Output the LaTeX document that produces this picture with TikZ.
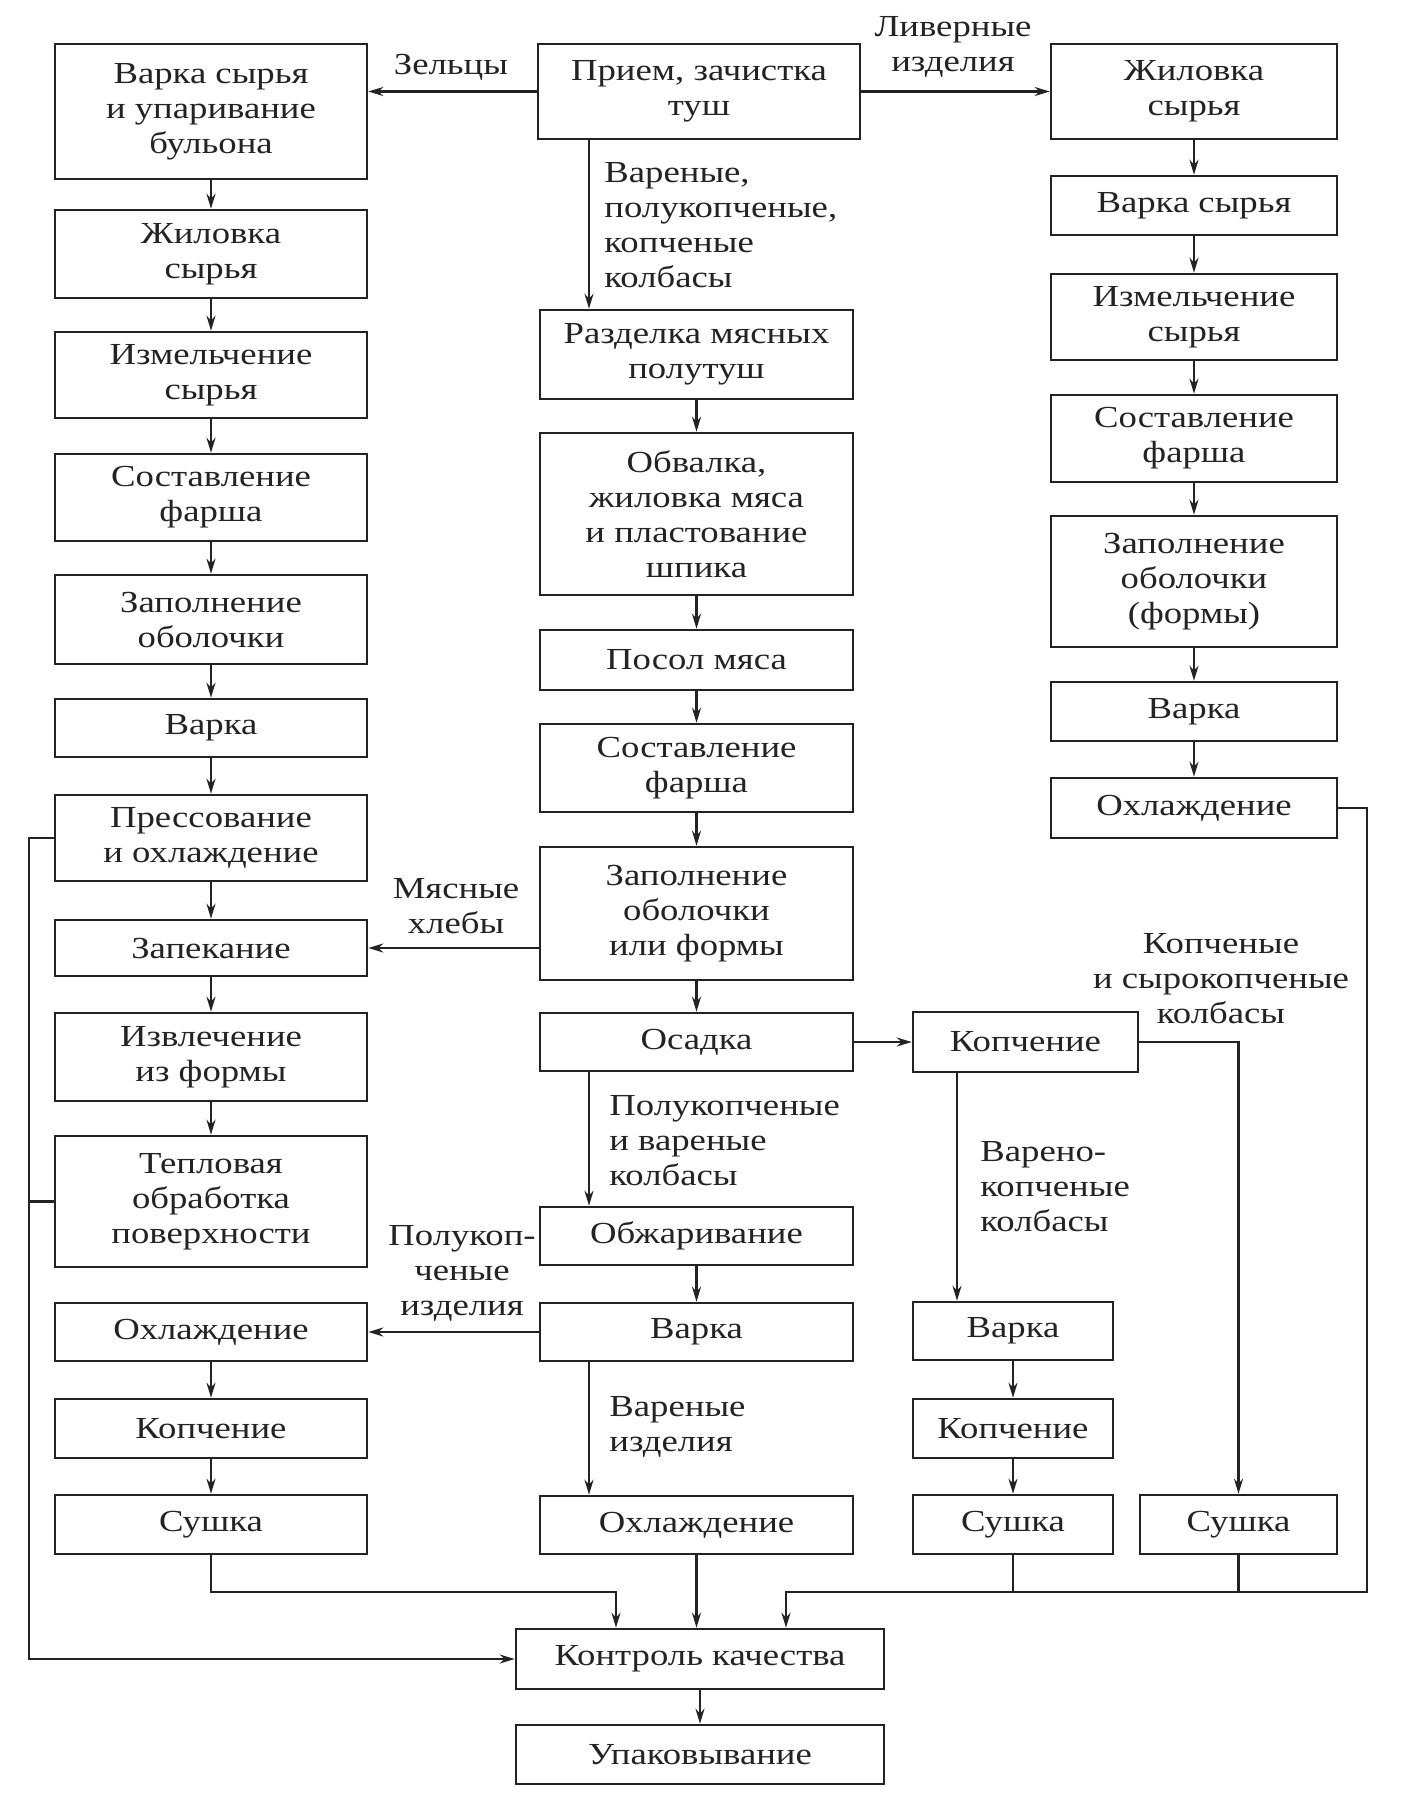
\documentclass[tikz,border=0pt]{standalone}
\usepackage{fontspec}
\setmainfont[FakeStretch=1.2]{Liberation Serif}
\usetikzlibrary{arrows.meta}
\definecolor{ink}{RGB}{35,35,35}
\newcommand\flowbox[6]{%
  \node[box, minimum width={(#4-#2)*0.5pt}, minimum height={(#5-#3)*0.5pt}]
    (#1) at ({(#2+#4)/2},{(#3+#5)/2}) {#6};}
\begin{document}
\begin{tikzpicture}[x=0.5pt,y=-0.5pt,
  every node/.style={font=\fontsize{15.3}{17.5}\selectfont, text=ink},
  box/.style={draw=ink, line width=1.3pt, inner sep=0pt, align=center, fill=white},
  lbl/.style={inner sep=0pt},
  conn/.style={draw=ink, line width=1.1pt},
  arr/.style={conn, -{Stealth[length=7.5pt,width=4.5pt]}}]
\useasboundingbox[fill=white] (0,0) rectangle (1406,1812);

% left column
\flowbox{L1}{55}{44}{367}{179}{Варка сырья\\и упаривание\\бульона}
\flowbox{L2}{55}{210}{367}{298}{Жиловка\\сырья}
\flowbox{L3}{55}{332}{367}{418}{Измельчение\\сырья}
\flowbox{L4}{55}{454}{367}{541}{Составление\\фарша}
\flowbox{L5}{55}{575}{367}{664}{Заполнение\\оболочки}
\flowbox{L6}{55}{699}{367}{757}{Варка}
\flowbox{L7}{55}{795}{367}{881}{Прессование\\и охлаждение}
\flowbox{L8}{55}{920}{367}{976}{Запекание}
\flowbox{L9}{55}{1013}{367}{1101}{Извлечение\\из формы}
\flowbox{L10}{55}{1136}{367}{1267}{Тепловая\\обработка\\поверхности}
\flowbox{L11}{55}{1303}{367}{1361}{Охлаждение}
\flowbox{L12}{55}{1399}{367}{1458}{Копчение}
\flowbox{L13}{55}{1495}{367}{1554}{Сушка}

% middle column
\flowbox{M1}{538}{44}{860}{139}{Прием, зачистка\\туш}
\flowbox{M2}{540}{310}{853}{399}{Разделка мясных\\полутуш}
\flowbox{M3}{540}{433}{853}{595}{Обвалка,\\жиловка мяса\\и пластование\\шпика}
\flowbox{M4}{540}{630}{853}{690}{Посол мяса}
\flowbox{M5}{540}{724}{853}{812}{Составление\\фарша}
\flowbox{M6}{540}{847}{853}{980}{Заполнение\\оболочки\\или формы}
\flowbox{M7}{540}{1013}{853}{1071}{Осадка}
\flowbox{M8}{540}{1207}{853}{1265}{Обжаривание}
\flowbox{M9}{540}{1303}{853}{1361}{Варка}
\flowbox{M10}{540}{1496}{853}{1554}{Охлаждение}

% right column
\flowbox{R1}{1051}{44}{1337}{139}{Жиловка\\сырья}
\flowbox{R2}{1051}{176}{1337}{235}{Варка сырья}
\flowbox{R3}{1051}{274}{1337}{360}{Измельчение\\сырья}
\flowbox{R4}{1051}{395}{1337}{482}{Составление\\фарша}
\flowbox{R5}{1051}{516}{1337}{647}{Заполнение\\оболочки\\(формы)}
\flowbox{R6}{1051}{682}{1337}{741}{Варка}
\flowbox{R7}{1051}{778}{1337}{838}{Охлаждение}

% smoking branch
\flowbox{K1}{913}{1012}{1138}{1072}{Копчение}
\flowbox{K2}{913}{1302}{1113}{1360}{Варка}
\flowbox{K3}{913}{1399}{1113}{1458}{Копчение}
\flowbox{K4}{913}{1495}{1113}{1554}{Сушка}
\flowbox{S2}{1140}{1495}{1337}{1554}{Сушка}

% bottom
\flowbox{K}{516}{1629}{884}{1689}{Контроль качества}
\flowbox{U}{516}{1725}{884}{1784}{Упаковывание}

% helper coordinates
\coordinate (xa) at (589,0);
\coordinate (kx) at (957,0);
\coordinate (fbx) at (29,0);
\coordinate (rx) at (1367,0);
\coordinate (ka) at (616,1592);
\coordinate (kb) at (786,1592);

% labels
\node[lbl] (lz) at (451,67) {Зельцы};
\node[lbl, align=center] (ll) at (953,47) {Ливерные\\изделия};
\node[lbl, align=left, anchor=west] (lv) at (604,225) {Вареные,\\полукопченые,\\копченые\\колбасы};
\node[lbl, align=center] (lm) at (456,906) {Мясные\\хлебы};
\node[lbl, align=left, anchor=west] (lp) at (609,1141) {Полукопченые\\и вареные\\колбасы};
\node[lbl, align=center] (lpi) at (462,1273) {Полукоп-\\ченые\\изделия};
\node[lbl, align=left, anchor=west] (lvi) at (609,1427) {Вареные\\изделия};
\node[lbl, align=left, anchor=west] (lvk) at (980,1187) {Варено-\\копченые\\колбасы};
\node[lbl, align=center] (lks) at (1221,979) {Копченые\\и сырокопченые\\колбасы};

% left column arrows
\foreach \a/\b in {L1/L2,L2/L3,L3/L4,L4/L5,L5/L6,L6/L7,L7/L8,L8/L9,L9/L10,L11/L12,L12/L13}
  \draw[arr] (\a.south) -- (\b.north);
% middle column arrows
\foreach \a/\b in {M2/M3,M3/M4,M4/M5,M5/M6,M6/M7,M8/M9}
  \draw[arr] (\a.south) -- (\b.north);
% right column arrows
\foreach \a/\b in {R1/R2,R2/R3,R3/R4,R4/R5,R5/R6,R6/R7,K2/K3,K3/K4}
  \draw[arr] (\a.south) -- (\b.north);

% branches from the top
\draw[arr] (M1.west) -- (L1.east |- M1.west);
\draw[arr] (M1.east) -- (R1.west |- M1.east);
\draw[arr] (M1.south -| xa) -- (M2.north -| xa);
\draw[arr] (M6.west |- L8.east) -- (L8.east);
\draw[arr] (M7.east) -- (K1.west |- M7.east);
\draw[arr] (M7.south -| xa) -- (M8.north -| xa);
\draw[arr] (M9.west) -- (L11.east |- M9.west);
\draw[arr] (M9.south -| xa) -- (M10.north -| xa);
\draw[arr] (K1.east) -- (K1.east -| S2.north) -- (S2.north);
\draw[arr] (K1.south -| kx) -- (K2.north -| kx);

% feedback on the left
\draw[arr] (L7.west) -- (L7.west -| fbx) -- (K.west -| fbx) -- (K.west);
\draw[conn] (L10.west) -- (L10.west -| fbx);

% collection at the bottom
\draw[arr] (L13.south) -- (L13.south |- ka) -- (ka) -- (ka |- K.north);
\draw[arr] (M10.south) -- (M10.south |- K.north);
\draw[arr] (R7.east) -- (R7.east -| rx) -- (rx |- kb) -- (kb) -- (kb |- K.north);
\draw[conn] (K4.south) -- (K4.south |- kb);
\draw[conn] (S2.south) -- (S2.south |- kb);
\draw[arr] (K.south) -- (U.north);
\end{tikzpicture}
\end{document}
